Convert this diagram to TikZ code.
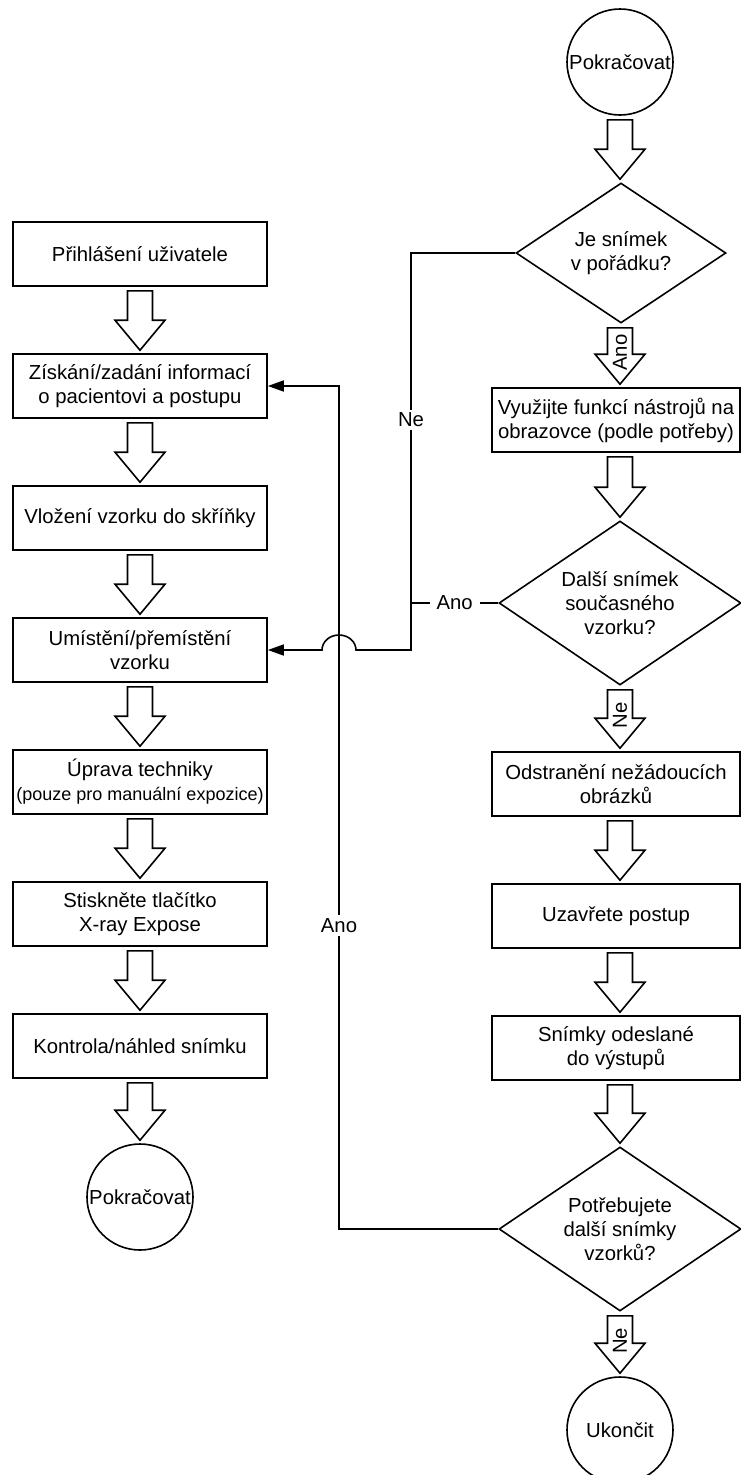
\documentclass[tikz,border=0pt]{standalone}
\usepackage{fontspec}
\setmainfont{Liberation Sans}
\usetikzlibrary{shapes.geometric,arrows.meta,calc}
\newcommand\blk[4][]{%
  \draw[blkstyle] let \p1=(#2.south), \p2=(#3.north), \p3=(#4) in
    ({\x3-12.5pt},{\y1-4pt}) -- ({\x3+12.5pt},{\y1-4pt}) -- ({\x3+12.5pt},{\y2+33pt})
    -- ({\x3+25pt},{\y2+33pt}) -- ({\x3},{\y2+3pt}) -- ({\x3-25pt},{\y2+33pt})
    -- ({\x3-12.5pt},{\y2+33pt}) -- cycle
    ({\x3},{(\y1+\y2)/2+3pt}) node[rotate=90,inner sep=0pt] (#2-#3-lbl) {#1};
}
\begin{document}
\begin{tikzpicture}[x=1pt,y=-1pt,
  every node/.style={font=\fontsize{20.3}{24}\selectfont},
  box/.style={draw,line width=1.6pt,minimum width=254pt,minimum height=64pt,align=center,inner sep=0pt},
  rbox/.style={box,minimum width=248pt},
  circ/.style={draw,circle,line width=1.6pt,minimum size=106pt,inner sep=0pt},
  dia/.style={draw,diamond,line width=1.6pt,inner sep=0pt},
  txt/.style={align=center,inner sep=0pt},
  conn/.style={line width=1.6pt},
  arr/.style={conn,-{Triangle[length=16pt,width=11pt]}},
  lbl/.style={fill=white,inner xsep=7pt,inner ysep=3pt},
  blkstyle/.style={draw,line width=1.6pt,fill=white,line join=miter}
]
\useasboundingbox (0,0) rectangle (740,1475);
\coordinate (Lx) at (140,0);
\coordinate (Rx) at (620,0);

% left column
\node[box] (b1) at (140,254) {Přihlášení uživatele};
\node[box] (b2) at (140,386) {Získání/zadání informací\\o pacientovi a postupu};
\node[box] (b3) at (140,518) {Vložení vzorku do skříňky};
\node[box] (b4) at (140,650) {Umístění/přemístění\\vzorku};
\node[box] (b5) at (140,782) {Úprava techniky\\{\fontsize{18}{22}\selectfont(pouze pro manuální expozice)}};
\node[box] (b6) at (140,914) {Stiskněte tlačítko\\X-ray Expose};
\node[box] (b7) at (140,1046) {Kontrola/náhled snímku};
\node[circ] (c1) at (140,1197) {Pokračovat};

% right column
\node[circ] (c0) at (620,62) {Pokračovat};
\node[dia,minimum width=210pt,minimum height=140pt] (d1) at (621,253) {};
\node[txt] (d1t) at (d1) {Je snímek\\v pořádku?};
\node[rbox] (r1) at (616,420) {Využijte funkcí nástrojů na\\obrazovce (podle potřeby)};
\node[dia,minimum width=242pt,minimum height=164pt] (d2) at (620,603) {};
\node[txt] (d2t) at (d2) {Další snímek\\současného\\vzorku?};
\node[rbox] (r2) at (616,784) {Odstranění nežádoucích\\obrázků};
\node[rbox] (r3) at (616,916) {Uzavřete postup};
\node[rbox] (r4) at (616,1048) {Snímky odeslané\\do výstupů};
\node[dia,minimum width=242pt,minimum height=164pt] (d3) at (620,1229) {};
\node[txt] (d3t) at (d3) {Potřebujete\\další snímky\\vzorků?};
\node[circ] (c2) at (620,1430) {Ukončit};

% block arrows
\blk{b1}{b2}{Lx}
\blk{b2}{b3}{Lx}
\blk{b3}{b4}{Lx}
\blk{b4}{b5}{Lx}
\blk{b5}{b6}{Lx}
\blk{b6}{b7}{Lx}
\blk{b7}{c1}{Lx}
\blk{c0}{d1}{Rx}
\blk[Ano]{d1}{r1}{Rx}
\blk{r1}{d2}{Rx}
\blk[Ne]{d2}{r2}{Rx}
\blk{r2}{r3}{Rx}
\blk{r3}{r4}{Rx}
\blk{r4}{d3}{Rx}
\blk[Ne]{d3}{c2}{Rx}

% connectors
\coordinate (nejoin) at (411,650);
\coordinate (jmpR) at (356,650);
\coordinate (anojoin) at (411,603);
\coordinate (loopc) at (339,386);
\draw[arr] (d1.west) -| node[pos=0.71,lbl] (nel) {Ne} (nejoin) -- (jmpR)
  arc[start angle=0,end angle=180,x radius=17pt,y radius=15pt] -- (b4.east);
\draw[conn] (d2.west) -- node[lbl] (anol) {Ano} (anojoin);
\draw[arr] (d3.west) -| node[pos=0.68,lbl] (ano2l) {Ano} (loopc) -- (b2.east);
\end{tikzpicture}
\end{document}
